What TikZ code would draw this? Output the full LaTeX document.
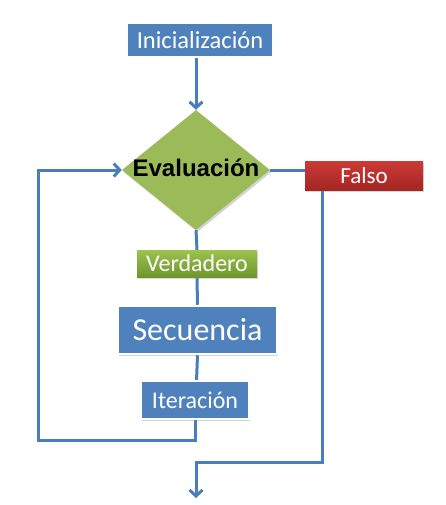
\documentclass[tikz,border=0pt]{standalone}
\usepackage{fontspec}
\setmainfont{Carlito}
\newfontfamily\arialfont{Liberation Sans}
\usetikzlibrary{shapes.geometric,arrows.meta,shadows,backgrounds}
\definecolor{lineblue}{HTML}{4A7EBB}
\definecolor{boxblue}{HTML}{4F81BD}
\definecolor{okgreen}{HTML}{9BBB59}
\definecolor{lightgreen}{HTML}{9CC24E}
\definecolor{darkgreen}{HTML}{6E962E}
\definecolor{falsered}{HTML}{CC3A36}
\definecolor{darkred}{HTML}{A32623}

\begin{document}
\begin{tikzpicture}[x=1pt,y=1pt]
\tikzstyle{every node}+=[inner sep=0pt, text=white]
\tikzstyle{bluebox}=[rectangle, fill=boxblue, draw=white, line width=2.5pt,
  drop shadow={opacity=0.35, shadow xshift=1.2pt, shadow yshift=-1.5pt}]
\tikzstyle{tagbox}=[rectangle, drop shadow={opacity=0.3, shadow xshift=1pt, shadow yshift=-1.5pt}]
\tikzstyle{flow}=[draw=lineblue, line width=3pt]
\tikzstyle{tip}=[-{Straight Barb[length=6pt,width=13pt]}]
\useasboundingbox (0,0) rectangle (445,-505);
\node [bluebox, minimum width=146pt, minimum height=34pt] (ini) at (200,-40)
  {\fontsize{24.5}{26}\selectfont Inicialización};
\node [diamond, fill=okgreen, minimum width=148pt, minimum height=120pt, aspect=1.23,
  drop shadow={opacity=0.35, shadow xshift=1.5pt, shadow yshift=-2pt}] (eva) at (196,-170) {};
\node [text=black] (evatxt) at (196,-168) {\arialfont\bfseries\fontsize{24}{26}\selectfont Evaluación};
\node [tagbox, top color=falsered, bottom color=darkred, minimum width=118pt, minimum height=29pt] (fal) at (364,-175.5)
  {\fontsize{23}{25}\selectfont Falso};
\node [tagbox, top color=lightgreen, bottom color=darkgreen, minimum width=120pt, minimum height=27pt] (ver) at (197,-263.5)
  {\fontsize{24}{26}\selectfont Verdadero};
\node [bluebox, minimum width=159pt, minimum height=48pt] (sec) at (197.5,-330)
  {\fontsize{32}{34}\selectfont Secuencia};
\node [bluebox, minimum width=108pt, minimum height=38pt] (ite) at (195,-400)
  {\fontsize{24}{26}\selectfont Iteración};
\coordinate (back) at (38,-440);
\coordinate (join) at (196,-462);
\coordinate (fin) at (196,-498);
\begin{scope}[on background layer]
\draw [flow, tip] (ini.south -| eva.north) -- (eva.north);
\draw [flow] (eva.east) -- (eva.east -| fal.west);
\draw [flow, tip] ([xshift=18pt]fal.south west) |- (join) -- (fin);
\draw [flow] (eva.south) -- (ver.north);
\draw [flow] (ver.south) -- (sec.north);
\draw [flow] (sec.south) -- (ite.south);
\draw [flow, tip] (ite.south) |- (back) |- (eva.west);
\end{scope}
\end{tikzpicture}
\end{document}
